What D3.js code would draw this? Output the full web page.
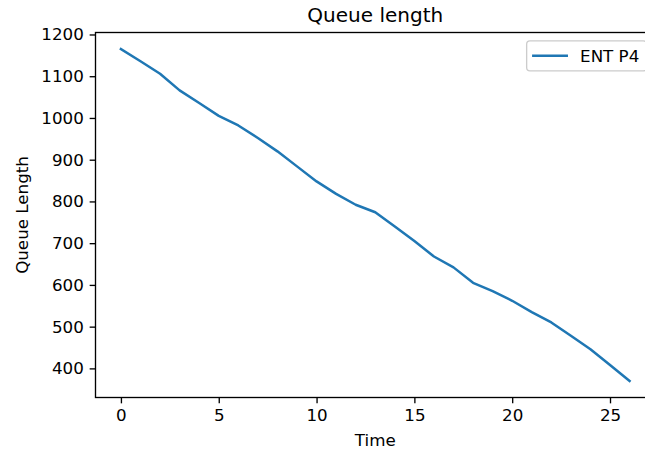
<!DOCTYPE html>
<html>
<head>
<meta charset="utf-8">
<script src="https://cdn.jsdelivr.net/npm/d3@7"></script>
<style>
  html, body { margin: 0; padding: 0; background: #fff; }
  svg { display: block; font-family: "DejaVu Sans", sans-serif; }
  .tick text { fill: #000; }
</style>
</head>
<body>
<div id="chart"></div>
<script>
// ===== Data =====
const timeSteps = [0, 1, 2, 3, 4, 5, 6, 7, 8, 9, 10, 11, 12, 13, 14, 15, 16, 17, 18, 19, 20, 21, 22, 23, 24, 25, 26];
const queueLength = [1165, 1136, 1106, 1066, 1036, 1005, 982, 952, 920, 884, 848, 818, 792, 774,
  740, 705, 668, 642, 605, 585, 562, 535, 510, 478, 446, 408, 370];
const xTicks = [0, 5, 10, 15, 20, 25];
const yTicks = [400, 500, 600, 700, 800, 900, 1000, 1100, 1200];
const seriesName = 'ENT P4';
const chartTitle = 'Queue length';
const xLabel = 'Time';
const yLabel = 'Queue Length';

// ===== Layout (matplotlib-like, axes run past the right edge of the picture) =====
const W = 645, H = 450;
const pt = 1.67; // px per point
const fontSize = 10 * pt;
const axes = { left: 95.5, top: 32.5, right: 655, bottom: 397.5 };
const tickLen = 3.5 * pt;
const color = '#1f77b4';

const points = timeSteps.map((t, i) => ({ t, v: queueLength[i] }));

// 5% margins like matplotlib autoscale
function padded(ext) {
  const m = (ext[1] - ext[0]) * 0.05;
  return [ext[0] - m, ext[1] + m];
}

const x = d3.scaleLinear()
  .domain(padded(d3.extent(timeSteps)))
  .range([axes.left, axes.right]);

const y = d3.scaleLinear()
  .domain(padded(d3.extent(queueLength)))
  .range([axes.bottom, axes.top]);

const svg = d3.select('#chart')
  .append('svg')
  .attr('width', W)
  .attr('height', H);

svg.append('rect')
  .attr('width', W)
  .attr('height', H)
  .attr('fill', '#fff');

// line
svg.append('path')
  .datum(points)
  .attr('fill', 'none')
  .attr('stroke', color)
  .attr('stroke-width', 1.5 * pt)
  .attr('stroke-linejoin', 'round')
  .attr('stroke-linecap', 'square')
  .attr('d', d3.line().x(d => x(d.t)).y(d => y(d.v)));

// axes
svg.append('g')
  .attr('transform', `translate(0,${axes.bottom})`)
  .call(d3.axisBottom(x)
    .tickValues(xTicks)
    .tickFormat(d3.format('d'))
    .tickSize(tickLen)
    .tickPadding(tickLen)
    .tickSizeOuter(0))
  .call(g => g.select('.domain').remove())
  .call(g => g.selectAll('.tick line').attr('stroke', '#000').attr('stroke-width', 0.8 * pt))
  .call(g => g.selectAll('.tick text')
    .attr('font-size', fontSize)
    .attr('font-family', '"DejaVu Sans", sans-serif'));

svg.append('g')
  .attr('transform', `translate(${axes.left},0)`)
  .call(d3.axisLeft(y)
    .tickValues(yTicks)
    .tickFormat(d3.format('d'))
    .tickSize(tickLen)
    .tickPadding(tickLen)
    .tickSizeOuter(0))
  .call(g => g.select('.domain').remove())
  .call(g => g.selectAll('.tick line').attr('stroke', '#000').attr('stroke-width', 0.8 * pt))
  .call(g => g.selectAll('.tick text')
    .attr('font-size', fontSize)
    .attr('font-family', '"DejaVu Sans", sans-serif'));

// spines
svg.append('rect')
  .attr('x', axes.left)
  .attr('y', axes.top)
  .attr('width', axes.right - axes.left)
  .attr('height', axes.bottom - axes.top)
  .attr('fill', 'none')
  .attr('stroke', '#000')
  .attr('stroke-width', 0.8 * pt);

// title and labels
const cx = (axes.left + axes.right) / 2;

svg.append('text')
  .attr('x', cx)
  .attr('y', axes.top - 6 * pt - 0.2)
  .attr('text-anchor', 'middle')
  .attr('font-size', 12 * pt)
  .text(chartTitle);

svg.append('text')
  .attr('x', cx)
  .attr('y', 446)
  .attr('text-anchor', 'middle')
  .attr('font-size', fontSize)
  .text(xLabel);

svg.append('text')
  .attr('transform', `translate(27.5,${(axes.top + axes.bottom) / 2}) rotate(-90)`)
  .attr('text-anchor', 'middle')
  .attr('font-size', fontSize)
  .text(yLabel);

// legend (upper right, like loc='best')
const pad = 0.5 * fontSize;
const legendW = 120;
const legendH = 30;
const lx = axes.right - pad - legendW;
const ly = axes.top + pad;

const legend = svg.append('g')
  .attr('transform', `translate(${lx},${ly})`);

legend.append('rect')
  .attr('width', legendW)
  .attr('height', legendH)
  .attr('rx', 0.2 * fontSize)
  .attr('fill', '#fff')
  .attr('fill-opacity', 0.8)
  .attr('stroke', '#cccccc')
  .attr('stroke-width', 0.8 * pt);

legend.append('line')
  .attr('x1', 0.4 * fontSize)
  .attr('x2', 0.4 * fontSize + 2 * fontSize)
  .attr('y1', legendH / 2)
  .attr('y2', legendH / 2)
  .attr('stroke', color)
  .attr('stroke-width', 1.5 * pt)
  .attr('stroke-linecap', 'square');

legend.append('text')
  .attr('x', 0.4 * fontSize + 2.8 * fontSize)
  .attr('y', legendH / 2)
  .attr('dy', '0.38em')
  .attr('font-size', fontSize)
  .text(seriesName);
</script>
</body>
</html>
